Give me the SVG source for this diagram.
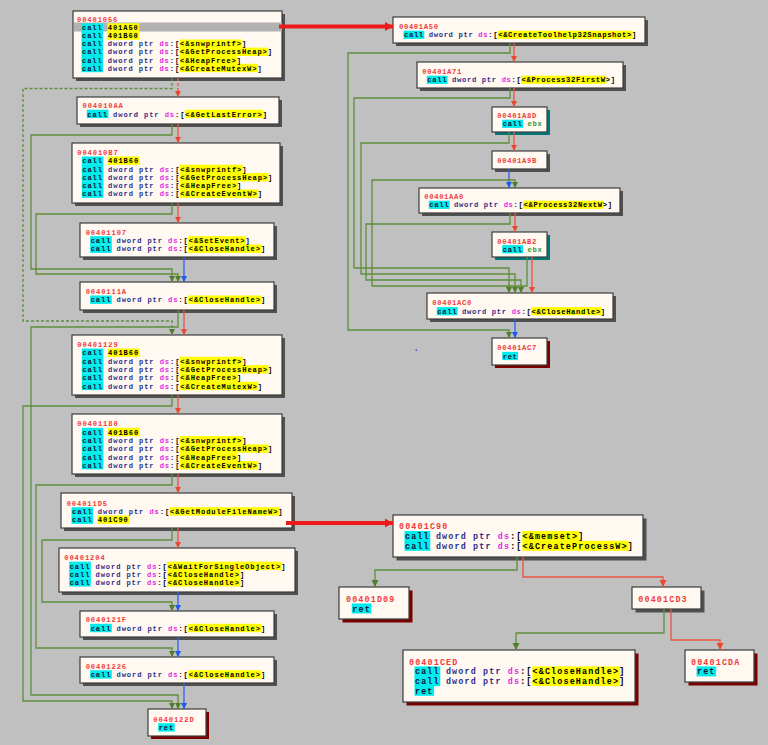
<svg xmlns="http://www.w3.org/2000/svg" width="768" height="745" viewBox="0 0 768 745">
<defs>
<style>
text{font-family:"Liberation Mono","DejaVu Sans Mono",monospace;white-space:pre;fill:#000;font-weight:bold}
.L{font-size:7.1px;letter-spacing:0.9px}.R{font-size:7.2px;letter-spacing:0.64px}.B{font-size:8.4px;letter-spacing:1.16px}
.sh{fill:#505050}.shr{fill:#7a0000}.sht{fill:#007878}
.bx{fill:#fff9f1;stroke:#3c3c3c;stroke-width:1.2}
.cy{fill:#00ecec}.ye{fill:#ffff00}.hl{fill:#b2b2b2}
.ad{fill:#f23a3a}.k{fill:#14143c}.d{fill:#2e2e88}.s{fill:#e81ee8}.g{fill:#2f9a3a}
.eg{fill:none;stroke:#5e8e3c;stroke-width:1.3}
.er{fill:none;stroke:#ea5440;stroke-width:1.3}
.eb{fill:none;stroke:#2a62f2;stroke-width:1.3}
.dash{stroke-dasharray:3 2}
.et{fill:none;stroke:#ee1a1a;stroke-width:4}
</style>
<marker id="ag" viewBox="0 -4 8 8" refX="6" refY="0" markerWidth="8" markerHeight="8" markerUnits="userSpaceOnUse" orient="auto"><path d="M0,-3 L6,0 L0,3 z" fill="#4f7f2c"/></marker>
<marker id="ar" viewBox="0 -4 8 8" refX="6" refY="0" markerWidth="8" markerHeight="8" markerUnits="userSpaceOnUse" orient="auto"><path d="M0,-3 L6,0 L0,3 z" fill="#e84830"/></marker>
<marker id="ab" viewBox="0 -4 8 8" refX="6" refY="0" markerWidth="8" markerHeight="8" markerUnits="userSpaceOnUse" orient="auto"><path d="M0,-3 L6,0 L0,3 z" fill="#1f58f0"/></marker>
<marker id="agB" viewBox="0 -5 9 10" refX="7" refY="0" markerWidth="9" markerHeight="10" markerUnits="userSpaceOnUse" orient="auto"><path d="M0,-3.5 L7,0 L0,3.5 z" fill="#4f7f2c"/></marker>
<marker id="arB" viewBox="0 -5 9 10" refX="7" refY="0" markerWidth="9" markerHeight="10" markerUnits="userSpaceOnUse" orient="auto"><path d="M0,-3.5 L7,0 L0,3.5 z" fill="#e84830"/></marker>
<marker id="at" viewBox="0 -6 10 12" refX="8" refY="0" markerWidth="10" markerHeight="12" markerUnits="userSpaceOnUse" orient="auto"><path d="M0,-4.5 L8,0 L0,4.5 z" fill="#ee1a1a"/></marker>
</defs>
<rect width="768" height="745" fill="#c0c0c0"/>

<g id="n00401056">
<rect class="sh" x="76" y="14" width="209" height="67"/>
<rect class="bx" x="73" y="11" width="209" height="67"/>
<rect class="hl" x="74" y="22.5" width="208" height="9"/>
<rect class="cy" x="81.5" y="23.3" width="21.6" height="8.4"/><rect class="cy" x="81.5" y="31.4" width="21.6" height="8.4"/><rect class="cy" x="81.5" y="39.5" width="21.6" height="8.4"/><rect class="cy" x="81.5" y="47.6" width="21.6" height="8.4"/><rect class="cy" x="81.5" y="55.7" width="21.6" height="8.4"/><rect class="cy" x="81.5" y="63.8" width="21.6" height="8.4"/>
<rect class="ye" x="107.3" y="23.3" width="32" height="8.4"/><rect class="ye" x="107.3" y="31.4" width="32" height="8.4"/><rect class="ye" x="179.5" y="39.5" width="62.9" height="8.4"/><rect class="ye" x="179.5" y="47.6" width="88.7" height="8.4"/><rect class="ye" x="179.5" y="55.7" width="57.8" height="8.4"/><rect class="ye" x="179.5" y="63.8" width="78.4" height="8.4"/>
<text class="L ad" x="77" y="22">00401056</text>
<text class="L" x="82" y="30.1"><tspan class="k">call</tspan> 401A50</text>
<text class="L" x="82" y="38.2"><tspan class="k">call</tspan> 401B60</text>
<text class="L" x="82" y="46.3"><tspan class="k">call</tspan> <tspan class="d">dword ptr</tspan> <tspan class="s">ds</tspan>:[&lt;&amp;snwprintf&gt;]</text>
<text class="L" x="82" y="54.4"><tspan class="k">call</tspan> <tspan class="d">dword ptr</tspan> <tspan class="s">ds</tspan>:[&lt;&amp;GetProcessHeap&gt;]</text>
<text class="L" x="82" y="62.5"><tspan class="k">call</tspan> <tspan class="d">dword ptr</tspan> <tspan class="s">ds</tspan>:[&lt;&amp;HeapFree&gt;]</text>
<text class="L" x="82" y="70.6"><tspan class="k">call</tspan> <tspan class="d">dword ptr</tspan> <tspan class="s">ds</tspan>:[&lt;&amp;CreateMutexW&gt;]</text>
</g>

<g id="n004010AA">
<rect class="sh" x="80" y="100" width="202" height="27"/>
<rect class="bx" x="77" y="97" width="202" height="27"/>
<rect class="cy" x="86.8" y="109.7" width="21.6" height="8.4"/><rect class="ye" x="184.8" y="109.7" width="78.4" height="8.4"/>
<text class="L ad" x="82.5" y="108">004010AA</text>
<text class="L" x="87.3" y="116.5"><tspan class="k">call</tspan> <tspan class="d">dword ptr</tspan> <tspan class="s">ds</tspan>:[&lt;&amp;GetLastError&gt;]</text>
</g>

<g id="n004010B7">
<rect class="sh" x="75" y="146" width="208" height="60"/>
<rect class="bx" x="72" y="143" width="208" height="60"/>
<rect class="cy" x="81.8" y="156.45" width="21.6" height="8.4"/><rect class="cy" x="81.8" y="164.7" width="21.6" height="8.4"/><rect class="cy" x="81.8" y="172.95" width="21.6" height="8.4"/><rect class="cy" x="81.8" y="181.2" width="21.6" height="8.4"/><rect class="cy" x="81.8" y="189.45" width="21.6" height="8.4"/>
<rect class="ye" x="107.6" y="156.45" width="32" height="8.4"/><rect class="ye" x="179.8" y="164.7" width="62.9" height="8.4"/><rect class="ye" x="179.8" y="172.95" width="88.7" height="8.4"/><rect class="ye" x="179.8" y="181.2" width="57.8" height="8.4"/><rect class="ye" x="179.8" y="189.45" width="78.4" height="8.4"/>
<text class="L ad" x="77.3" y="155">004010B7</text>
<text class="L" x="82.3" y="163.25"><tspan class="k">call</tspan> 401B60</text>
<text class="L" x="82.3" y="171.5"><tspan class="k">call</tspan> <tspan class="d">dword ptr</tspan> <tspan class="s">ds</tspan>:[&lt;&amp;snwprintf&gt;]</text>
<text class="L" x="82.3" y="179.75"><tspan class="k">call</tspan> <tspan class="d">dword ptr</tspan> <tspan class="s">ds</tspan>:[&lt;&amp;GetProcessHeap&gt;]</text>
<text class="L" x="82.3" y="188"><tspan class="k">call</tspan> <tspan class="d">dword ptr</tspan> <tspan class="s">ds</tspan>:[&lt;&amp;HeapFree&gt;]</text>
<text class="L" x="82.3" y="196.25"><tspan class="k">call</tspan> <tspan class="d">dword ptr</tspan> <tspan class="s">ds</tspan>:[&lt;&amp;CreateEventW&gt;]</text>
</g>

<g id="n00401107">
<rect class="sh" x="83" y="226" width="194" height="34"/>
<rect class="bx" x="80" y="223" width="194" height="34"/>
<rect class="cy" x="90.2" y="236.2" width="21.6" height="8.4"/><rect class="cy" x="90.2" y="244.5" width="21.6" height="8.4"/>
<rect class="ye" x="188.2" y="236.2" width="57.8" height="8.4"/><rect class="ye" x="188.2" y="244.5" width="73.2" height="8.4"/>
<text class="L ad" x="85.7" y="234.7">00401107</text>
<text class="L" x="90.7" y="243"><tspan class="k">call</tspan> <tspan class="d">dword ptr</tspan> <tspan class="s">ds</tspan>:[&lt;&amp;SetEvent&gt;]</text>
<text class="L" x="90.7" y="251.3"><tspan class="k">call</tspan> <tspan class="d">dword ptr</tspan> <tspan class="s">ds</tspan>:[&lt;&amp;CloseHandle&gt;]</text>
</g>

<g id="n0040111A">
<rect class="sh" x="83" y="285" width="194" height="28"/>
<rect class="bx" x="80" y="282" width="194" height="28"/>
<rect class="cy" x="90.2" y="295.5" width="21.6" height="8.4"/><rect class="ye" x="188.2" y="295.5" width="73.2" height="8.4"/>
<text class="L ad" x="85.7" y="294">0040111A</text>
<text class="L" x="90.7" y="302.3"><tspan class="k">call</tspan> <tspan class="d">dword ptr</tspan> <tspan class="s">ds</tspan>:[&lt;&amp;CloseHandle&gt;]</text>
</g>

<g id="n00401129">
<rect class="sh" x="75" y="338" width="210" height="60"/>
<rect class="bx" x="72" y="335" width="210" height="60"/>
<rect class="cy" x="81.8" y="348.5" width="21.6" height="8.4"/><rect class="cy" x="81.8" y="356.8" width="21.6" height="8.4"/><rect class="cy" x="81.8" y="365.1" width="21.6" height="8.4"/><rect class="cy" x="81.8" y="373.4" width="21.6" height="8.4"/><rect class="cy" x="81.8" y="381.7" width="21.6" height="8.4"/>
<rect class="ye" x="107.6" y="348.5" width="32" height="8.4"/><rect class="ye" x="179.8" y="356.8" width="62.9" height="8.4"/><rect class="ye" x="179.8" y="365.1" width="88.7" height="8.4"/><rect class="ye" x="179.8" y="373.4" width="57.8" height="8.4"/><rect class="ye" x="179.8" y="381.7" width="78.4" height="8.4"/>
<text class="L ad" x="77.3" y="347">00401129</text>
<text class="L" x="82.3" y="355.3"><tspan class="k">call</tspan> 401B60</text>
<text class="L" x="82.3" y="363.6"><tspan class="k">call</tspan> <tspan class="d">dword ptr</tspan> <tspan class="s">ds</tspan>:[&lt;&amp;snwprintf&gt;]</text>
<text class="L" x="82.3" y="371.9"><tspan class="k">call</tspan> <tspan class="d">dword ptr</tspan> <tspan class="s">ds</tspan>:[&lt;&amp;GetProcessHeap&gt;]</text>
<text class="L" x="82.3" y="380.2"><tspan class="k">call</tspan> <tspan class="d">dword ptr</tspan> <tspan class="s">ds</tspan>:[&lt;&amp;HeapFree&gt;]</text>
<text class="L" x="82.3" y="388.5"><tspan class="k">call</tspan> <tspan class="d">dword ptr</tspan> <tspan class="s">ds</tspan>:[&lt;&amp;CreateMutexW&gt;]</text>
</g>

<g id="n00401180">
<rect class="sh" x="75" y="417" width="210" height="60"/>
<rect class="bx" x="72" y="414" width="210" height="60"/>
<rect class="cy" x="81.8" y="427.8" width="21.6" height="8.4"/><rect class="cy" x="81.8" y="436.1" width="21.6" height="8.4"/><rect class="cy" x="81.8" y="444.4" width="21.6" height="8.4"/><rect class="cy" x="81.8" y="452.7" width="21.6" height="8.4"/><rect class="cy" x="81.8" y="461" width="21.6" height="8.4"/>
<rect class="ye" x="107.6" y="427.8" width="32" height="8.4"/><rect class="ye" x="179.8" y="436.1" width="62.9" height="8.4"/><rect class="ye" x="179.8" y="444.4" width="88.7" height="8.4"/><rect class="ye" x="179.8" y="452.7" width="57.8" height="8.4"/><rect class="ye" x="179.8" y="461" width="78.4" height="8.4"/>
<text class="L ad" x="77.3" y="426.3">00401180</text>
<text class="L" x="82.3" y="434.6"><tspan class="k">call</tspan> 401B60</text>
<text class="L" x="82.3" y="442.9"><tspan class="k">call</tspan> <tspan class="d">dword ptr</tspan> <tspan class="s">ds</tspan>:[&lt;&amp;snwprintf&gt;]</text>
<text class="L" x="82.3" y="451.2"><tspan class="k">call</tspan> <tspan class="d">dword ptr</tspan> <tspan class="s">ds</tspan>:[&lt;&amp;GetProcessHeap&gt;]</text>
<text class="L" x="82.3" y="459.5"><tspan class="k">call</tspan> <tspan class="d">dword ptr</tspan> <tspan class="s">ds</tspan>:[&lt;&amp;HeapFree&gt;]</text>
<text class="L" x="82.3" y="467.8"><tspan class="k">call</tspan> <tspan class="d">dword ptr</tspan> <tspan class="s">ds</tspan>:[&lt;&amp;CreateEventW&gt;]</text>
</g>

<g id="n004011D5">
<rect class="sh" x="64" y="496" width="231" height="35"/>
<rect class="bx" x="61" y="493" width="231" height="35"/>
<rect class="cy" x="71.5" y="507.2" width="21.6" height="8.4"/><rect class="cy" x="71.5" y="515.5" width="21.6" height="8.4"/>
<rect class="ye" x="169.5" y="507.2" width="109.4" height="8.4"/><rect class="ye" x="97.3" y="515.5" width="32" height="8.4"/>
<text class="L ad" x="66.7" y="505.7">004011D5</text>
<text class="L" x="72" y="514"><tspan class="k">call</tspan> <tspan class="d">dword ptr</tspan> <tspan class="s">ds</tspan>:[&lt;&amp;GetModuleFileNameW&gt;]</text>
<text class="L" x="72" y="522.3"><tspan class="k">call</tspan> 401C90</text>
</g>

<g id="n00401204">
<rect class="sh" x="62" y="551" width="236" height="44"/>
<rect class="bx" x="59" y="548" width="236" height="44"/>
<rect class="cy" x="69.2" y="561.7" width="21.6" height="8.4"/><rect class="cy" x="69.2" y="569.9" width="21.6" height="8.4"/><rect class="cy" x="69.2" y="578.1" width="21.6" height="8.4"/>
<rect class="ye" x="167.2" y="561.7" width="114.5" height="8.4"/><rect class="ye" x="167.2" y="569.9" width="73.2" height="8.4"/><rect class="ye" x="167.2" y="578.1" width="73.2" height="8.4"/>
<text class="L ad" x="64.3" y="560.3">00401204</text>
<text class="L" x="69.7" y="568.5"><tspan class="k">call</tspan> <tspan class="d">dword ptr</tspan> <tspan class="s">ds</tspan>:[&lt;&amp;WaitForSingleObject&gt;]</text>
<text class="L" x="69.7" y="576.7"><tspan class="k">call</tspan> <tspan class="d">dword ptr</tspan> <tspan class="s">ds</tspan>:[&lt;&amp;CloseHandle&gt;]</text>
<text class="L" x="69.7" y="584.9"><tspan class="k">call</tspan> <tspan class="d">dword ptr</tspan> <tspan class="s">ds</tspan>:[&lt;&amp;CloseHandle&gt;]</text>
</g>

<g id="n0040121F">
<rect class="sh" x="83" y="614" width="194" height="26"/>
<rect class="bx" x="80" y="611" width="194" height="26"/>
<rect class="cy" x="90.2" y="623.8" width="21.6" height="8.4"/><rect class="ye" x="188.2" y="623.8" width="73.2" height="8.4"/>
<text class="L ad" x="85.7" y="622.3">0040121F</text>
<text class="L" x="90.7" y="630.6"><tspan class="k">call</tspan> <tspan class="d">dword ptr</tspan> <tspan class="s">ds</tspan>:[&lt;&amp;CloseHandle&gt;]</text>
</g>

<g id="n00401226">
<rect class="sh" x="83" y="660" width="194" height="26"/>
<rect class="bx" x="80" y="657" width="194" height="26"/>
<rect class="cy" x="90.2" y="670.2" width="21.6" height="8.4"/><rect class="ye" x="188.2" y="670.2" width="73.2" height="8.4"/>
<text class="L ad" x="85.7" y="668.7">00401226</text>
<text class="L" x="90.7" y="677"><tspan class="k">call</tspan> <tspan class="d">dword ptr</tspan> <tspan class="s">ds</tspan>:[&lt;&amp;CloseHandle&gt;]</text>
</g>

<g id="n0040122D">
<rect class="shr" x="151" y="712" width="58" height="27"/>
<rect class="bx" x="148" y="709" width="58" height="27"/>
<rect class="cy" x="158.2" y="723.2" width="16.5" height="8.4"/>
<text class="L ad" x="153.3" y="721.7">0040122D</text>
<text class="L" x="158.7" y="730"><tspan class="k">ret</tspan></text>
</g>

<g id="n00401A50">
<rect class="sh" x="396" y="20" width="252" height="26"/>
<rect class="bx" x="393" y="17" width="252" height="26"/>
<rect class="cy" x="403.5" y="30.7" width="20.8" height="8.2"/><rect class="ye" x="497.7" y="30.7" width="134.9" height="8.2"/>
<text class="R ad" x="399" y="29">00401A50</text>
<text class="R" x="404" y="37.3"><tspan class="k">call</tspan> <tspan class="d">dword ptr</tspan> <tspan class="s">ds</tspan>:[&lt;&amp;CreateToolhelp32Snapshot&gt;]</text>
</g>

<g id="n00401A71">
<rect class="sh" x="420" y="65" width="206" height="26"/>
<rect class="bx" x="417" y="62" width="206" height="26"/>
<rect class="cy" x="426.8" y="75.7" width="20.8" height="8.2"/><rect class="ye" x="521" y="75.7" width="85.3" height="8.2"/>
<text class="R ad" x="422.3" y="74">00401A71</text>
<text class="R" x="427.3" y="82.3"><tspan class="k">call</tspan> <tspan class="d">dword ptr</tspan> <tspan class="s">ds</tspan>:[&lt;&amp;Process32FirstW&gt;]</text>
</g>

<g id="n00401A8D">
<rect class="sht" x="495" y="110" width="55" height="25"/>
<rect class="bx" x="492" y="107" width="55" height="25"/>
<rect class="cy" x="502.2" y="119.7" width="20.8" height="8.2"/>
<text class="R ad" x="497.3" y="118">00401A8D</text>
<text class="R" x="502.7" y="126.3"><tspan class="k">call</tspan> <tspan class="g">ebx</tspan></text>
</g>

<g id="n00401A9B">
<rect class="sh" x="495" y="154" width="55" height="18"/>
<rect class="bx" x="492" y="151" width="55" height="18"/>
<text class="R ad" x="497.3" y="163">00401A9B</text>
</g>

<g id="n00401AA0">
<rect class="sh" x="422" y="191" width="201" height="25"/>
<rect class="bx" x="419" y="188" width="201" height="25"/>
<rect class="cy" x="428.8" y="200.7" width="20.8" height="8.2"/><rect class="ye" x="523" y="200.7" width="80.4" height="8.2"/>
<text class="R ad" x="424.3" y="199">00401AA0</text>
<text class="R" x="429.3" y="207.3"><tspan class="k">call</tspan> <tspan class="d">dword ptr</tspan> <tspan class="s">ds</tspan>:[&lt;&amp;Process32NextW&gt;]</text>
</g>

<g id="n00401AB2">
<rect class="sht" x="495" y="235" width="55" height="25"/>
<rect class="bx" x="492" y="232" width="55" height="25"/>
<rect class="cy" x="502.2" y="245.1" width="20.8" height="8.2"/>
<text class="R ad" x="497.3" y="243.7">00401AB2</text>
<text class="R" x="502.7" y="251.7"><tspan class="k">call</tspan> <tspan class="g">ebx</tspan></text>
</g>

<g id="n00401AC0">
<rect class="sh" x="430" y="296" width="186" height="26"/>
<rect class="bx" x="427" y="293" width="186" height="26"/>
<rect class="cy" x="436.8" y="307.1" width="20.8" height="8.2"/><rect class="ye" x="531" y="307.1" width="70.4" height="8.2"/>
<text class="R ad" x="432.3" y="305.3">00401AC0</text>
<text class="R" x="437.3" y="313.7"><tspan class="k">call</tspan> <tspan class="d">dword ptr</tspan> <tspan class="s">ds</tspan>:[&lt;&amp;CloseHandle&gt;]</text>
</g>

<g id="n00401AC7">
<rect class="shr" x="495" y="341" width="55" height="27"/>
<rect class="bx" x="492" y="338" width="55" height="27"/>
<rect class="cy" x="502.2" y="351.9" width="15.9" height="8.2"/>
<text class="R ad" x="497.3" y="350.3">00401AC7</text>
<text class="R" x="502.7" y="358.5"><tspan class="k">ret</tspan></text>
</g>

<g id="n00401C90">
<rect class="sh" x="396.5" y="518.5" width="250" height="42"/>
<rect class="bx" x="393" y="515" width="250" height="42"/>
<rect class="cy" x="404.5" y="531" width="25.8" height="10"/><rect class="cy" x="404.5" y="540.8" width="25.8" height="10"/>
<rect class="ye" x="522.3" y="531" width="56.8" height="10"/><rect class="ye" x="522.3" y="540.8" width="106.4" height="10"/>
<text class="B ad" x="399" y="529">00401C90</text>
<text class="B" x="405" y="539"><tspan class="k">call</tspan> <tspan class="d">dword ptr</tspan> <tspan class="s">ds</tspan>:[&lt;&amp;memset&gt;]</text>
<text class="B" x="405" y="548.8"><tspan class="k">call</tspan> <tspan class="d">dword ptr</tspan> <tspan class="s">ds</tspan>:[&lt;&amp;CreateProcessW&gt;]</text>
</g>

<g id="n00401D09">
<rect class="shr" x="342.5" y="590.5" width="70" height="32"/>
<rect class="bx" x="339" y="587" width="70" height="32"/>
<rect class="cy" x="351.8" y="603.5" width="19.6" height="10"/>
<text class="B ad" x="346" y="602">00401D09</text>
<text class="B" x="352.3" y="611.5"><tspan class="k">ret</tspan></text>
</g>

<g id="n00401CD3">
<rect class="sh" x="635.5" y="590.5" width="69" height="22"/>
<rect class="bx" x="632" y="587" width="69" height="22"/>
<text class="B ad" x="638.3" y="602">00401CD3</text>
</g>

<g id="n00401CED">
<rect class="shr" x="406.5" y="653.5" width="232" height="52"/>
<rect class="bx" x="403" y="650" width="232" height="52"/>
<rect class="cy" x="414.5" y="666.4" width="25.8" height="10"/><rect class="cy" x="414.5" y="676.1" width="25.8" height="10"/><rect class="cy" x="414.5" y="685.8" width="19.6" height="10"/>
<rect class="ye" x="532.3" y="666.4" width="87.8" height="10"/><rect class="ye" x="532.3" y="676.1" width="87.8" height="10"/>
<text class="B ad" x="409" y="664.7">00401CED</text>
<text class="B" x="415" y="674.4"><tspan class="k">call</tspan> <tspan class="d">dword ptr</tspan> <tspan class="s">ds</tspan>:[&lt;&amp;CloseHandle&gt;]</text>
<text class="B" x="415" y="684.1"><tspan class="k">call</tspan> <tspan class="d">dword ptr</tspan> <tspan class="s">ds</tspan>:[&lt;&amp;CloseHandle&gt;]</text>
<text class="B" x="415" y="693.8"><tspan class="k">ret</tspan></text>
</g>

<g id="n00401CDA">
<rect class="shr" x="688.5" y="653.5" width="69" height="32"/>
<rect class="bx" x="685" y="650" width="69" height="32"/>
<rect class="cy" x="696.5" y="666.4" width="19.6" height="10"/>
<text class="B ad" x="691" y="664.7">00401CDA</text>
<text class="B" x="697" y="674.4"><tspan class="k">ret</tspan></text>
</g>

<g id="connectors">
<path class="er dash" d="M178,78 V97" marker-end="url(#ar)"/>
<path class="eg dash" d="M172,78 V88.5 H23 V321 H172 V335" marker-end="url(#ag)"/>
<path class="er" d="M178,124 V143" marker-end="url(#ar)"/>
<path class="eg" d="M172,124 V135 H31 V269 H172 V282" marker-end="url(#ag)"/>
<path class="er" d="M178,203 V223" marker-end="url(#ar)"/>
<path class="eg" d="M172,203 V214 H36 V274 H178 V282" marker-end="url(#ag)"/>
<path class="eb" d="M184,257 V282" marker-end="url(#ab)"/>
<path class="er" d="M184,310 V335" marker-end="url(#ar)"/>
<path class="eg" d="M178,310 V327 H31 V695 H178 V709" marker-end="url(#ag)"/>
<path class="er" d="M178,395 V414" marker-end="url(#ar)"/>
<path class="eg" d="M172,395 V406 H23 V701 H172 V709" marker-end="url(#ag)"/>
<path class="er" d="M178,474 V493" marker-end="url(#ar)"/>
<path class="eg" d="M172,474 V485 H36 V648 H172 V657" marker-end="url(#ag)"/>
<path class="er" d="M178,528 V548" marker-end="url(#ar)"/>
<path class="eg" d="M172,528 V540 H42 V602 H172 V611" marker-end="url(#ag)"/>
<path class="eb" d="M178,592 V611" marker-end="url(#ab)"/>
<path class="eb" d="M178,637 V657" marker-end="url(#ab)"/>
<path class="eb" d="M184,683 V709" marker-end="url(#ab)"/>

<path class="er" d="M514,43 V62" marker-end="url(#ar)"/>
<path class="eg" d="M510,43 V53 H348 V330 H509 V338" marker-end="url(#ag)"/>
<path class="er" d="M514,88 V107" marker-end="url(#ar)"/>
<path class="eg" d="M510,88 V98 H354 V268 H509 V293" marker-end="url(#ag)"/>
<path class="er" d="M514,132 V151" marker-end="url(#ar)"/>
<path class="eg" d="M509,132 V143 H361 V274 H515 V293" marker-end="url(#ag)"/>
<path class="eb" d="M509,169 V188" marker-end="url(#ab)"/>
<path class="er" d="M515,213 V232" marker-end="url(#ar)"/>
<path class="eg" d="M510,213 V224 H366 V280 H521 V293" marker-end="url(#ag)"/>
<path class="eg" d="M527,257 V286 H372 V180 H515 V188" marker-end="url(#ag)"/>
<path class="er" d="M532,257 V293" marker-end="url(#ar)"/>
<path class="eb" d="M515,319 V338" marker-end="url(#ab)"/>

<path class="eg" d="M517,557 V570 H375 V587" marker-end="url(#agB)"/>
<path class="er" d="M523,557 V577 H663 V587" marker-end="url(#arB)"/>
<path class="eg" d="M664,609 V633 H516 V650" marker-end="url(#agB)"/>
<path class="er" d="M671,609 V640 H720 V650" marker-end="url(#arB)"/>

<path class="et" d="M279,26.5 H393" marker-end="url(#at)"/>
<path class="et" d="M286,523 H393" marker-end="url(#at)"/>
</g>
<rect x="415.5" y="349.5" width="1.5" height="1.5" fill="#2a4af0"/>
</svg>
